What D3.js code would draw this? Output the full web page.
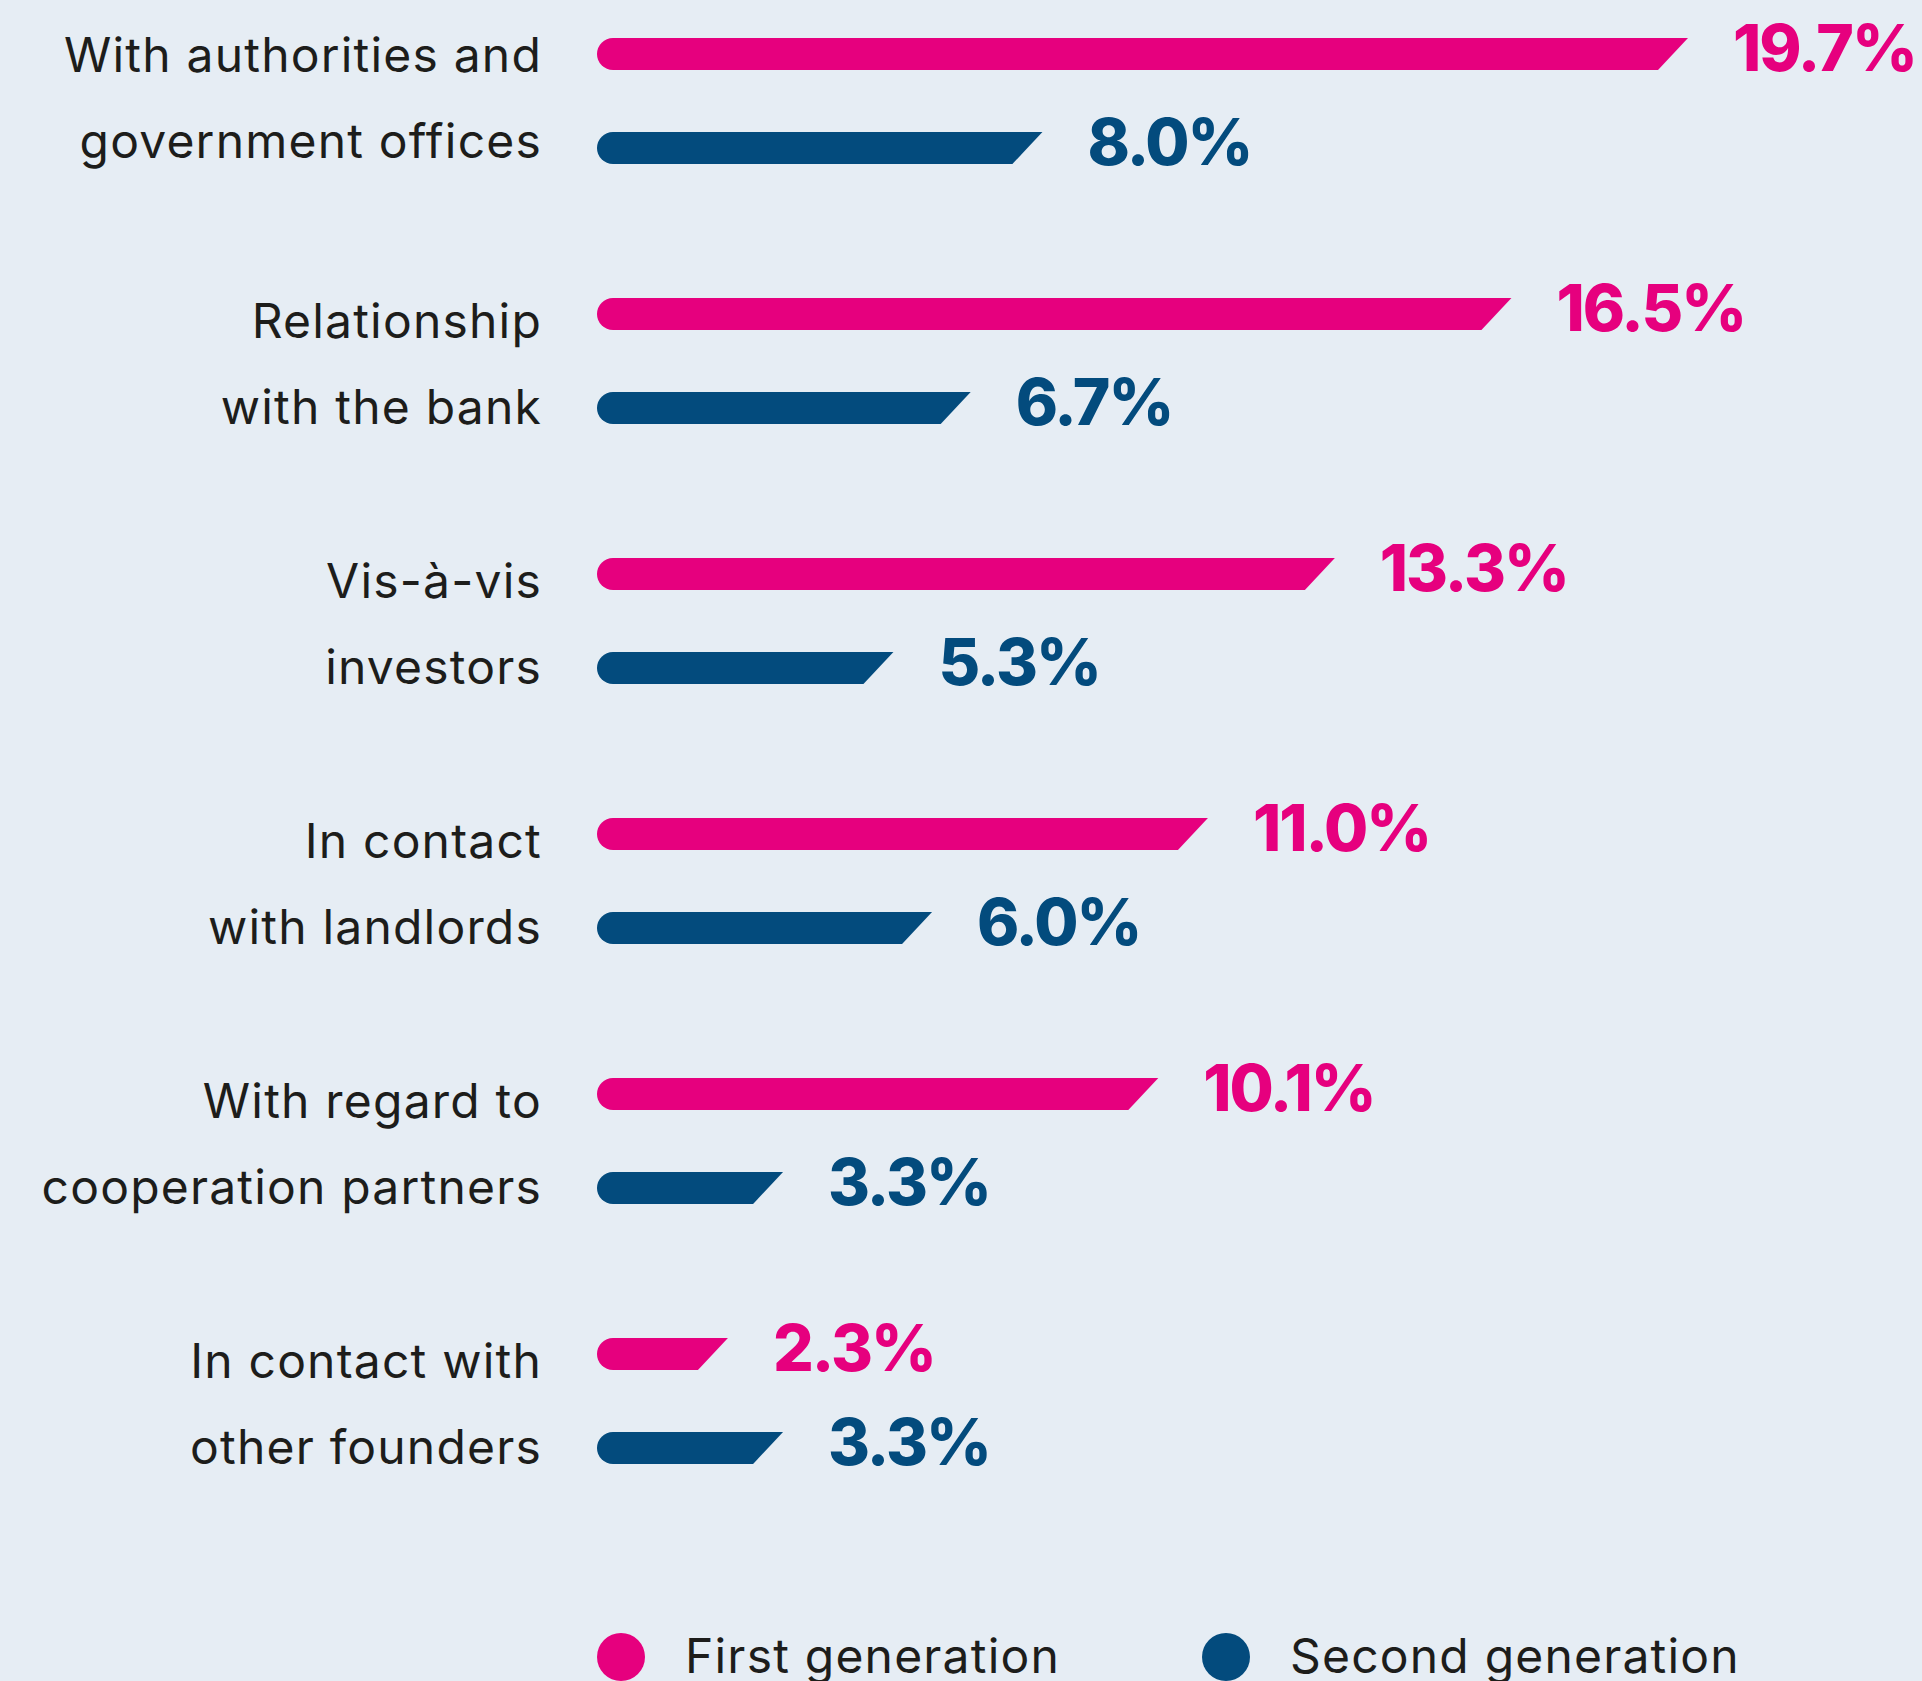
<!DOCTYPE html>
<html>
<head>
<meta charset="utf-8">
<script src="https://cdn.jsdelivr.net/npm/d3@7"></script>
<style>
  html, body { margin: 0; padding: 0; background: #e6edf4; }
  svg { display: block; }
</style>
</head>
<body>
<div id="chart"></div>
<script>
// categories, each split over two lines as in the original
const categories = [
  ["With authorities and", "government offices"],
  ["Relationship", "with the bank"],
  ["Vis-à-vis", "investors"],
  ["In contact", "with landlords"],
  ["With regard to", "cooperation partners"],
  ["In contact with", "other founders"]
];
const seriesNames = ["First generation", "Second generation"];
const firstGen = [19.7, 16.5, 13.3, 11.0, 10.1, 2.3];
const secondGen = [8.0, 6.7, 5.3, 6.0, 3.3, 3.3];
const colors = ["#e6007e", "#034b7d"];

const width = 1922, height = 1681;
const barH = 32, slant = 30, barStart = 597;

const svg = d3.select("#chart").append("svg")
  .attr("width", width).attr("height", height);

svg.append("rect").attr("width", width).attr("height", height).attr("fill", "#e6edf4");

const keys = categories.map(c => c.join(" "));

const x = d3.scaleLinear().domain([0, 19.7]).range([601, 1688]);
const y = d3.scalePoint().domain(keys).range([54, 1354]);
const ySeries = d3.scalePoint().domain(seriesNames).range([0, 94]);

const rows = [];
keys.forEach((k, i) => {
  rows.push({ key: k, series: seriesNames[0], value: firstGen[i], color: colors[0] });
  rows.push({ key: k, series: seriesNames[1], value: secondGen[i], color: colors[1] });
});

function barPath(d) {
  const cy = y(d.key) + ySeries(d.series);
  const top = cy - barH / 2, bot = cy + barH / 2, r = barH / 2;
  const xe = x(d.value);
  return "M" + (barStart + r) + "," + top +
    "L" + xe + "," + top +
    "L" + (xe - slant) + "," + bot +
    "L" + (barStart + r) + "," + bot +
    "A" + r + "," + r + " 0 0 1 " + (barStart + r) + "," + top + "Z";
}

const g = svg.append("g");

g.selectAll("path.bar")
  .data(rows)
  .enter().append("path")
  .attr("class", "bar")
  .attr("d", barPath)
  .attr("fill", d => d.color);

// value labels
g.selectAll("text.value")
  .data(rows)
  .enter().append("text")
  .attr("class", "value")
  .attr("x", d => x(d.value) + 45)
  .attr("y", d => y(d.key) + ySeries(d.series) + 17)
  .attr("fill", d => d.color)
  .attr("font-family", "Inter, 'Noto Sans', sans-serif")
  .attr("font-weight", 800)
  .attr("font-size", 64)
  .attr("letter-spacing", -2)
  .text(d => d.value.toFixed(1) + "%");

// category labels
const labels = g.selectAll("text.cat")
  .data(categories)
  .enter().append("text")
  .attr("class", "cat")
  .attr("text-anchor", "end")
  .attr("fill", "#1d1d1b")
  .attr("font-family", "Inter, 'Noto Sans', sans-serif")
  .attr("font-size", 48)
  .attr("letter-spacing", 1.2);

labels.each(function(lines, i) {
  const t = d3.select(this);
  const base = y(keys[i]) + (i === 0 ? 18 : 24);
  lines.forEach((line, j) => {
    t.append("tspan").attr("x", 542).attr("y", base + j * 86).text(line);
  });
});

// legend
const legendX = [621, 1226];
const legend = svg.append("g").selectAll("g")
  .data(seriesNames)
  .enter().append("g")
  .attr("transform", (d, i) => "translate(" + legendX[i] + ",1657)");

legend.append("circle").attr("r", 24).attr("fill", (d, i) => colors[i]);
legend.append("text")
  .attr("x", 64)
  .attr("y", 16)
  .attr("fill", "#1d1d1b")
  .attr("font-family", "Inter, 'Noto Sans', sans-serif")
  .attr("font-size", 48)
  .attr("letter-spacing", 1.2)
  .text(d => d);
</script>
</body>
</html>
